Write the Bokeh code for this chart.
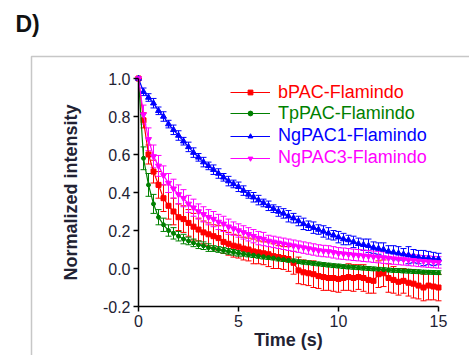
from bokeh.plotting import figure
from bokeh.models import (Range1d, Whisker, TeeHead, ColumnDataSource, Legend,
                          LegendItem, Label, BoxAnnotation, FixedTicker,
                          NumeralTickFormatter)
from bokeh.embed import file_html
from bokeh.resources import INLINE

time = [0, 0.25, 0.5, 0.75, 1.0, 1.25, 1.5, 1.75, 2.0, 2.25, 2.5, 2.75,
        3.0, 3.25, 3.5, 3.75, 4.0, 4.25, 4.5, 4.75, 5.0, 5.25, 5.5, 5.75,
        6.0, 6.25, 6.5, 6.75, 7.0, 7.25, 7.5, 7.75, 8.0, 8.25, 8.5, 8.75,
        9.0, 9.25, 9.5, 9.75, 10.0, 10.25, 10.5, 10.75, 11.0, 11.25, 11.5, 11.75,
        12.0, 12.25, 12.5, 12.75, 13.0, 13.25, 13.5, 13.75, 14.0, 14.25, 14.5, 14.75, 15.0]

bpac = [1.00, 0.78, 0.60, 0.51, 0.44, 0.37, 0.33, 0.30, 0.27, 0.26, 0.24, 0.22,
        0.205, 0.19, 0.18, 0.17, 0.16, 0.14, 0.13, 0.12, 0.115, 0.105, 0.10, 0.09,
        0.085, 0.08, 0.075, 0.065, 0.06, 0.055, 0.05, 0.03, -0.01, -0.02, -0.025, -0.03,
        -0.04, -0.045, -0.05, -0.05, -0.055, -0.05, -0.045, -0.05, -0.045, -0.05, -0.06, -0.065,
        -0.03, -0.025, -0.05, -0.06, -0.07, -0.065, -0.075, -0.08, -0.09, -0.10, -0.09, -0.095, -0.10]
bpac_err = [0, 0.04, 0.05, 0.06, 0.07, 0.07, 0.07, 0.07, 0.07, 0.07, 0.07, 0.07,
            0.06, 0.06, 0.06, 0.06, 0.065, 0.06, 0.06, 0.06, 0.06, 0.06, 0.06, 0.065,
            0.06, 0.06, 0.065, 0.065, 0.06, 0.06, 0.065, 0.06, 0.07, 0.065, 0.065, 0.07,
            0.065, 0.07, 0.065, 0.07, 0.07, 0.065, 0.07, 0.07, 0.065, 0.07, 0.07, 0.065,
            0.07, 0.07, 0.075, 0.07, 0.07, 0.065, 0.07, 0.075, 0.07, 0.07, 0.075, 0.07, 0.07]

tppac = [1.00, 0.58, 0.44, 0.34, 0.27, 0.23, 0.20, 0.185, 0.17, 0.155, 0.145, 0.135,
         0.125, 0.12, 0.11, 0.105, 0.10, 0.095, 0.09, 0.085, 0.08, 0.077, 0.073, 0.07,
         0.066, 0.062, 0.058, 0.055, 0.05, 0.047, 0.043, 0.04, 0.036, 0.033, 0.03, 0.027,
         0.024, 0.021, 0.018, 0.015, 0.013, 0.01, 0.008, 0.006, 0.004, 0.002, 0.0, -0.002,
         -0.004, -0.006, -0.008, -0.01, -0.011, -0.013, -0.014, -0.016, -0.017, -0.019, -0.02, -0.021, -0.022]
tppac_err = [0, 0.06, 0.06, 0.05, 0.04, 0.035, 0.03, 0.03, 0.025, 0.025, 0.02, 0.02,
             0.02, 0.02, 0.02, 0.015, 0.015, 0.015, 0.015, 0.015, 0.015, 0.012, 0.012, 0.012,
             0.012, 0.012, 0.01, 0.01, 0.01, 0.01, 0.01, 0.01, 0.01, 0.01, 0.01, 0.01,
             0.01, 0.01, 0.01, 0.01, 0.01, 0.01, 0.01, 0.01, 0.01, 0.01, 0.01, 0.01,
             0.01, 0.01, 0.01, 0.01, 0.01, 0.01, 0.01, 0.01, 0.01, 0.01, 0.01, 0.01, 0.01]

ngpac1 = [1.00, 0.93, 0.90, 0.87, 0.83, 0.80, 0.76, 0.73, 0.70, 0.67, 0.64, 0.61,
          0.585, 0.56, 0.54, 0.52, 0.50, 0.48, 0.46, 0.445, 0.43, 0.41, 0.39, 0.375,
          0.36, 0.345, 0.33, 0.315, 0.30, 0.29, 0.275, 0.265, 0.25, 0.235, 0.225, 0.215,
          0.205, 0.195, 0.185, 0.175, 0.165, 0.155, 0.15, 0.14, 0.13, 0.125, 0.12, 0.11,
          0.105, 0.10, 0.09, 0.085, 0.08, 0.075, 0.07, 0.065, 0.06, 0.055, 0.055, 0.05, 0.05]
ngpac1_err = [0, 0.02, 0.02, 0.025, 0.02, 0.025, 0.02, 0.025, 0.025, 0.02, 0.025, 0.025,
              0.02, 0.025, 0.02, 0.025, 0.025, 0.02, 0.025, 0.02, 0.025, 0.025, 0.02, 0.025,
              0.025, 0.02, 0.025, 0.02, 0.025, 0.025, 0.03, 0.025, 0.025, 0.03, 0.025, 0.03,
              0.025, 0.03, 0.03, 0.025, 0.03, 0.03, 0.025, 0.03, 0.03, 0.03, 0.035, 0.03,
              0.03, 0.035, 0.03, 0.035, 0.035, 0.03, 0.045, 0.035, 0.035, 0.04, 0.035, 0.035, 0.03]

ngpac3 = [1.00, 0.81, 0.68, 0.59, 0.54, 0.49, 0.45, 0.42, 0.39, 0.37, 0.34, 0.32,
          0.30, 0.285, 0.27, 0.26, 0.245, 0.235, 0.22, 0.21, 0.20, 0.19, 0.18, 0.17,
          0.16, 0.155, 0.145, 0.14, 0.135, 0.13, 0.125, 0.12, 0.115, 0.11, 0.105, 0.10,
          0.095, 0.092, 0.09, 0.085, 0.08, 0.078, 0.075, 0.072, 0.07, 0.067, 0.065, 0.062,
          0.06, 0.057, 0.055, 0.052, 0.05, 0.048, 0.045, 0.043, 0.04, 0.038, 0.036, 0.034, 0.032]
ngpac3_err = [0, 0.05, 0.06, 0.06, 0.055, 0.05, 0.05, 0.05, 0.05, 0.045, 0.045, 0.045,
              0.04, 0.04, 0.04, 0.04, 0.04, 0.04, 0.04, 0.035, 0.035, 0.035, 0.035, 0.035,
              0.035, 0.035, 0.03, 0.03, 0.03, 0.03, 0.03, 0.03, 0.03, 0.03, 0.03, 0.03,
              0.03, 0.03, 0.03, 0.03, 0.03, 0.03, 0.03, 0.03, 0.03, 0.03, 0.03, 0.03,
              0.03, 0.03, 0.03, 0.03, 0.03, 0.03, 0.03, 0.03, 0.03, 0.03, 0.03, 0.03, 0.03]

series_names = ["bPAC-Flamindo", "TpPAC-Flamindo", "NgPAC1-Flamindo", "NgPAC3-Flamindo"]
y_ticks = [-0.2, 0.0, 0.2, 0.4, 0.6, 0.8, 1.0]
x_ticks = [0, 5, 10, 15]

FONT = "Liberation Sans"
W, H = 469, 355
# pixel layout of the data area: x=0 at 138 px, 20 px per s; y=0 at 268 px, 190 px per unit
X0, XS, Y0, YS = 138, 20.0, 268, 190.0


def px_x(px):
    return (px - X0) / XS


def px_y(py):
    return (Y0 - py) / YS


p = figure(width=W, height=H, output_backend="svg", toolbar_location=None,
           x_range=Range1d(px_x(0), px_x(W)), y_range=Range1d(px_y(H), px_y(0)),
           min_border=0, min_border_left=0, min_border_right=0,
           min_border_top=0, min_border_bottom=0)
p.outline_line_color = None
p.grid.visible = False
p.background_fill_color = "white"
p.border_fill_color = "white"
p.title.visible = False

p.xaxis.fixed_location = -0.2
p.yaxis.fixed_location = 0

for ax in (p.xaxis[0], p.yaxis[0]):
    ax.axis_line_width = 1.5
    ax.axis_line_color = "black"
    ax.major_tick_line_width = 1.5
    ax.major_tick_line_color = "black"
    ax.major_tick_out = 5
    ax.major_tick_in = 0
    ax.minor_tick_line_color = None
    ax.major_label_text_font = FONT
    ax.major_label_text_font_size = "16px"
    ax.major_label_text_color = "#222233"
    ax.axis_label_text_font = FONT
    ax.axis_label_text_font_style = "bold"
    ax.axis_label_text_font_size = "18px"
    ax.axis_label_text_color = "#222233"

p.xaxis.ticker = FixedTicker(ticks=x_ticks)
p.yaxis.ticker = FixedTicker(ticks=y_ticks)
p.yaxis.formatter = NumeralTickFormatter(format="0.0")
p.xaxis.bounds = (0, 15)
p.yaxis.bounds = (-0.2, 1.0)
p.xaxis.major_label_standoff = 3
p.yaxis.major_label_standoff = 3
p.yaxis.axis_label = "Normalized intensity"
p.yaxis.axis_label_standoff = 19
p.xaxis.axis_label = "Time (s)"
p.xaxis.axis_label_standoff = 0

# outer panel frame (left and top edges visible, the rest runs off the picture)
p.add_layout(BoxAnnotation(left=px_x(31), right=px_x(W + 40), top=px_y(56),
                           bottom=px_y(H + 40), fill_alpha=0,
                           line_color="#444444", line_width=1.5, level="underlay"))

p.add_layout(Label(x=px_x(15), y=px_y(10), text="D)",
                   text_font=FONT, text_font_style="bold", text_font_size="23px",
                   text_color="#111111", text_align="left", text_baseline="top"))

data = [
    (bpac, bpac_err, "#ff0000", "square", 5),
    (tppac, tppac_err, "#008000", "circle", 4),
    (ngpac1, ngpac1_err, "#0000ff", "triangle", 6),
    (ngpac3, ngpac3_err, "#ff00ff", "inverted_triangle", 6),
]
legend_rows = [92.5, 113.5, 136, 158]

for (vals, errs, color, marker, size), name, row in zip(data, series_names, legend_rows):
    src = ColumnDataSource(dict(
        t=time, v=vals,
        upper=[v + e for v, e in zip(vals, errs)],
        lower=[v - e for v, e in zip(vals, errs)]))
    p.add_layout(Whisker(base="t", upper="upper", lower="lower", source=src,
                         line_color=color, line_width=1,
                         upper_head=TeeHead(size=6, line_color=color, line_width=1),
                         lower_head=TeeHead(size=6, line_color=color, line_width=1)))
    lr = p.line("t", "v", source=src, line_color=color, line_width=1.2)
    sr = p.scatter("t", "v", source=src, marker=marker, size=size,
                   fill_color=color, line_color=color)
    leg = Legend(items=[LegendItem(label=name, renderers=[lr, sr])],
                 location=(230, H - row - 10), glyph_width=40, glyph_height=12,
                 label_height=20, label_standoff=8, padding=0, margin=0,
                 spacing=0, border_line_alpha=0, background_fill_alpha=0,
                 label_text_font=FONT, label_text_font_size="18px",
                 label_text_color=color)
    p.add_layout(leg)

open("out.html", "w").write(file_html(p, INLINE))
